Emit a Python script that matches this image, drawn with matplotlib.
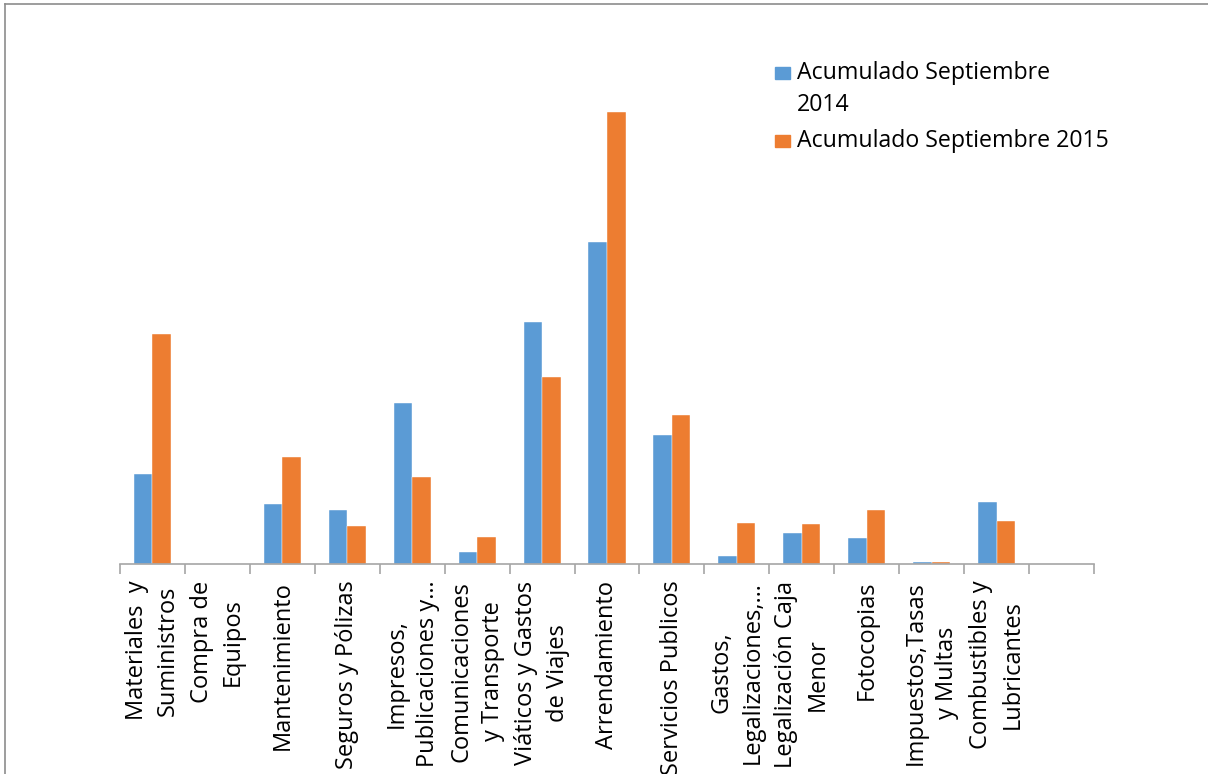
import numpy as np
import matplotlib.pyplot as plt
from matplotlib.patches import Rectangle
from matplotlib.lines import Line2D

# categorias y valores (unidades relativas)
categorias = ["Materiales  y\nSuministros", "Compra de\nEquipos", "Mantenimiento",
              "Seguros y Pólizas", "Impresos,\nPublicaciones y…",
              "Comunicaciones\ny Transporte", "Viáticos y Gastos\nde Viajes",
              "Arrendamiento", "Servicios Publicos", "Gastos,\nLegalizaciones,…",
              "Legalización Caja\nMenor", "Fotocopias", "Impuestos,Tasas\ny Multas",
              "Combustibles y\nLubricantes", ""]
sep_2014 = [90, 0, 60, 54, 161, 12, 242, 322, 129, 8, 31, 26, 2.5, 62, 0]
sep_2015 = [230, 0, 107, 38, 87, 27, 187, 452, 149, 41.5, 40, 54, 2, 43, 0]
series = ["Acumulado Septiembre\n2014", "Acumulado Septiembre 2015"]
colores = ["#5B9BD5", "#ED7D31"]

W, H = 1208, 774
fig = plt.figure(figsize=(W / 100, H / 100), dpi=100)
ax = fig.add_axes([120 / W, 1 - 564 / H, 974 / W, 524 / H])

x = np.arange(len(categorias)) + 0.5
ancho = 0.285
ax.bar(x - ancho / 2, sep_2014, ancho, color=colores[0], edgecolor="white", linewidth=0.3)
ax.bar(x + ancho / 2, sep_2015, ancho, color=colores[1], edgecolor="white", linewidth=0.3)

ax.set_xlim(0, len(categorias))
ax.set_ylim(0, 524)
for s in ["top", "right", "left"]:
    ax.spines[s].set_visible(False)
ax.spines["bottom"].set_color("#a6a6a6")
ax.spines["bottom"].set_linewidth(1.2)
ax.set_yticks([])

# ticks en los limites de categoria, etiquetas en el centro
ax.set_xticks(np.arange(len(categorias) + 1))
ax.set_xticklabels([])
ax.tick_params(axis="x", which="major", length=7, width=1.2, color="#a6a6a6")
ax.set_xticks(x, categorias, minor=True)
ax.tick_params(axis="x", which="minor", length=0, pad=12)
for t in ax.get_xticklabels(minor=True):
    t.set_rotation(90)
    t.set_fontsize(17)
    t.set_family("Open Sans")
    t.set_ha("center")
    t.set_va("top")
    t.set_multialignment("center")
    t.set_linespacing(1.42)

# leyenda manual (cuadro alineado con la primera linea)
ley_y = [67, 135]
for col, lab, yy in zip(colores, series, ley_y):
    fig.patches.append(Rectangle((775 / W, 1 - (yy + 12) / H), 15 / W, 12 / H,
                                 transform=fig.transFigure, color=col))
    fig.text(797 / W, 1 - (yy - 6) / H, lab, fontsize=16.7, family="Open Sans",
             va="top", ha="left", linespacing=1.45)

# marco gris del grafico
fig.lines.append(Line2D([5 / W, 5 / W], [0, 1 - 4 / H], transform=fig.transFigure,
                        color="#8c8c8c", lw=1.2))
fig.lines.append(Line2D([5 / W, 1], [1 - 4 / H, 1 - 4 / H], transform=fig.transFigure,
                        color="#8c8c8c", lw=1.2))

fig.savefig("out.png", dpi=100)
